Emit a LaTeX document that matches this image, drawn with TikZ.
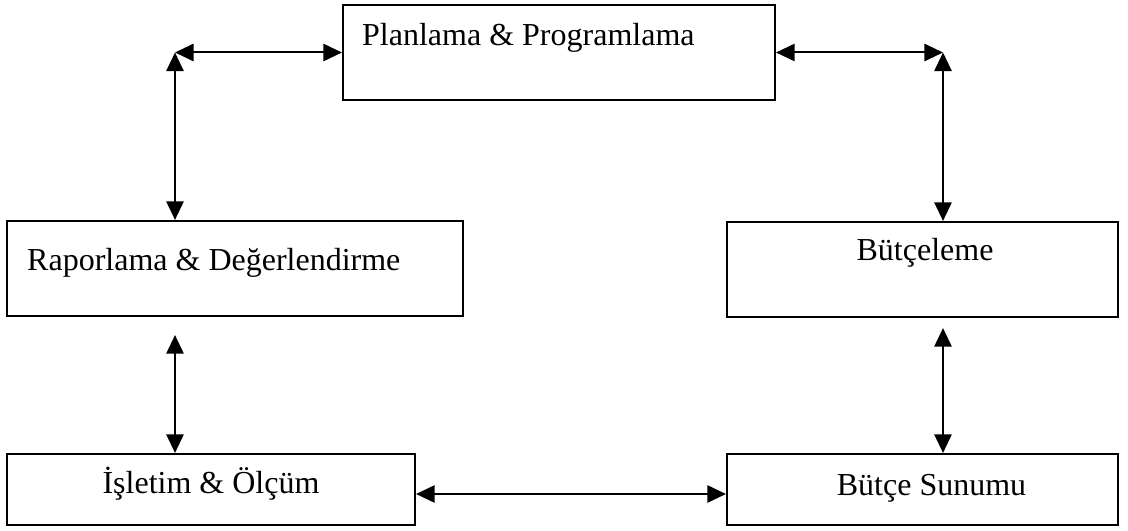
\documentclass[tikz,border=0pt]{standalone}
\usepackage{fontspec}
\setmainfont{Liberation Serif}
\usetikzlibrary{positioning,arrows.meta,calc}
\tikzset{
  box/.style={rectangle, draw=black, line width=1.6pt, inner sep=0pt, minimum height=71.25pt},
  link/.style={{Triangle[length=14pt,width=13pt]}-{Triangle[length=14pt,width=13pt]}, line width=1.5pt},
  lbl/.style={font=\fontsize{24}{28}\selectfont, inner sep=0pt}
}

\begin{document}
\begin{tikzpicture}[x=0.75pt, y=-0.75pt]
\useasboundingbox (0,0) rectangle (1128,531);
\node[box, minimum width=324pt] (plan) at (559,52.5) {};
\node[box, minimum width=342pt] (rapor) at (235,268.5) {};
\node[box, minimum width=293.25pt] (butce) at (922.5,269.5) {};
\node[box, minimum width=306pt, minimum height=53.25pt] (islet) at (211,489.5) {};
\node[box, minimum width=293.25pt, minimum height=53.25pt] (sunum) at (922.5,489.5) {};
% box texts
\node[lbl, anchor=base west] (plant) at ($(plan.north west)+(20,42)$) {Planlama \& Programlama};
\node[lbl, anchor=base west] (rapt) at ($(rapor.north west)+(21,51)$) {Raporlama \& Değerlendirme};
\node[lbl, anchor=base] (butt) at ($(butce.north)+(2.5,40)$) {Bütçeleme};
\node[lbl, anchor=base] (islt) at ($(islet.north)+(0,41)$) {İşletim \& Ölçüm};
\node[lbl, anchor=base] (sunt) at ($(sunum.north)+(9,43)$) {Bütçe Sunumu};
% corners of the loop
\coordinate (tl) at (175,52.5);
\coordinate (tr) at (943,52.5);
\draw[link] (tl) -- (plan.west);
\draw[link] (plan.east) -- (tr);
\draw[link] (tl) -- (tl |- rapor.north);
\draw[link] (tr) -- (tr |- butce.north);
\draw[link] ($(tl |- rapor.south)+(0,18)$) -- (tl |- islet.north);
\draw[link] ($(tr |- butce.south)+(0,10)$) -- (tr |- sunum.north);
\draw[link] ($(islet.east)+(0,4.5)$) -- ($(sunum.west)+(0,4.5)$);
\end{tikzpicture}
\end{document}
